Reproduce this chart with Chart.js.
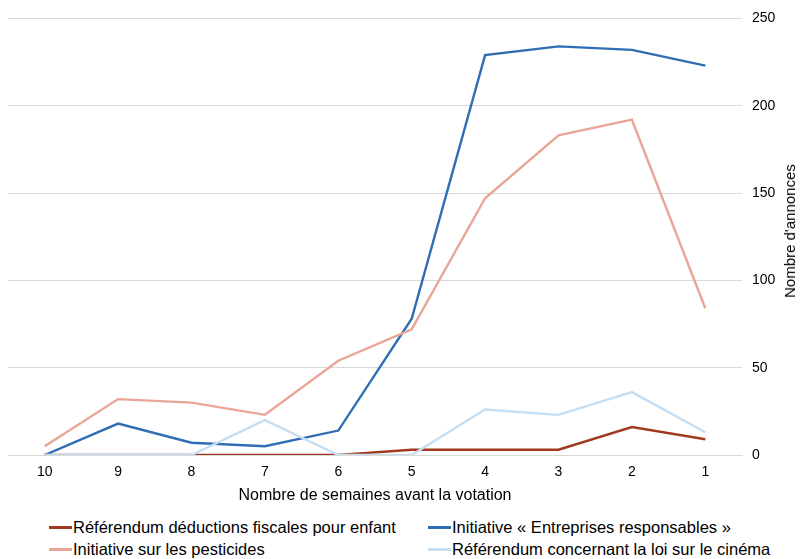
<!DOCTYPE html>
<html>
<head>
<meta charset="utf-8">
<script src="https://cdn.jsdelivr.net/npm/chart.js@4/dist/chart.umd.min.js"></script>
<style>
  html, body { margin: 0; padding: 0; background: #fff; }
  #wrap { position: relative; width: 800px; height: 559px; font-family: "Liberation Sans", Arial, sans-serif; overflow: hidden; }
  #chartBox { position: absolute; left: 0; top: 0; width: 800px; height: 505px; }
  .leg { position: absolute; font-size: 16.5px; color: #000; white-space: nowrap; line-height: 18px; }
  .leg i { display: inline-block; width: 23px; height: 3px; vertical-align: middle; margin-right: 1px; position: relative; top: -1px; }
  #yTitle { position: absolute; left: 790px; top: 231px; font-size: 15px; color: #000; white-space: nowrap;
            transform: translate(-50%, -50%) rotate(-90deg); line-height: 18px; }
</style>
</head>
<body>
<div id="wrap">
  <div id="chartBox"><canvas id="c"></canvas></div>
  <div id="yTitle">Nombre d'annonces</div>
  <div id="legend"></div>
</div>
<script>
// Weeks before the vote
const weeks = ['10', '9', '8', '7', '6', '5', '4', '3', '2', '1'];

// Number of ads per week for each ballot item
const deductionsEnfant = [0, 0, 0, 0, 0, 3, 3, 3, 16, 9];
const entreprisesResp  = [0, 18, 7, 5, 14, 78, 229, 234, 232, 223];
const pesticides       = [5, 32, 30, 23, 54, 72, 147, 183, 192, 84];
const loiCinema        = [0, 0, 0, 20, 0, 0, 26, 23, 36, 13];

const seriesNames = [
  'Référendum déductions fiscales pour enfant',
  'Initiative « Entreprises responsables »',
  'Initiative sur les pesticides',
  'Référendum concernant la loi sur le cinéma'
];
const seriesColors = ['#A0391F', '#2F6DB5', '#E9A595', '#C6DEF2'];
const seriesData = [deductionsEnfant, entreprisesResp, pesticides, loiCinema];

const yTicks = [0, 50, 100, 150, 200, 250];

const FONT = '"Liberation Sans", Arial, sans-serif';

const datasets = seriesData.map((d, i) => ({
  label: seriesNames[i],
  data: d,
  borderColor: seriesColors[i],
  backgroundColor: seriesColors[i],
  borderWidth: 2.4,
  pointRadius: 0,
  pointHoverRadius: 0,
  tension: 0,
  fill: false,
  // later series are painted over earlier ones
  order: seriesData.length - i
}));

new Chart(document.getElementById('c'), {
  type: 'line',
  data: { labels: weeks, datasets },
  options: {
    responsive: true,
    maintainAspectRatio: false,
    animation: false,
    layout: { padding: { left: 8, top: 18, right: 0, bottom: 0 } },
    plugins: { legend: { display: false }, tooltip: { enabled: false } },
    scales: {
      x: {
        offset: true,
        grid: { display: false, drawTicks: false },
        border: { display: true, color: '#D9D9D9', width: 1 },
        ticks: { color: '#000', font: { family: FONT, size: 14 }, padding: 9, maxRotation: 0 },
        title: {
          display: true,
          text: 'Nombre de semaines avant la votation',
          color: '#000',
          font: { family: FONT, size: 16 },
          padding: { top: 1, bottom: 0 }
        },
        afterFit: (s) => { s.height = 50; }
      },
      y: {
        position: 'right',
        min: 0,
        max: 250,
        afterBuildTicks: (s) => { s.ticks = yTicks.map(v => ({ value: v })); },
        grid: { color: '#D9D9D9', lineWidth: 1, drawTicks: false },
        border: { display: false },
        ticks: { color: '#000', font: { family: FONT, size: 14 }, padding: 10 },
        afterFit: (s) => { s.width = 58; }
      }
    }
  }
});

// Two-column legend under the chart
const legendPos = [
  { left: 49, top: 518 },
  { left: 428, top: 518 },
  { left: 49, top: 540 },
  { left: 428, top: 540 }
];
const legendEl = document.getElementById('legend');
seriesNames.forEach((name, i) => {
  const div = document.createElement('div');
  div.className = 'leg';
  div.style.left = legendPos[i].left + 'px';
  div.style.top = legendPos[i].top + 'px';
  const sw = document.createElement('i');
  sw.style.background = seriesColors[i];
  div.appendChild(sw);
  div.appendChild(document.createTextNode(name));
  legendEl.appendChild(div);
});
</script>
</body>
</html>
